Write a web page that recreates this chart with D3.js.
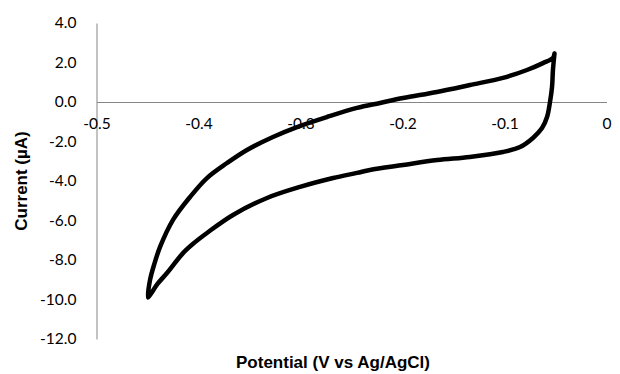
<!DOCTYPE html>
<html>
<head>
<meta charset="utf-8">
<script src="https://cdn.jsdelivr.net/npm/d3@7"></script>
<style>
  body { margin: 0; background: #fff; }
  svg { display: block; }
</style>
</head>
<body>
<svg id="chart" width="620" height="374"></svg>
<script>
"use strict";

// cyclic voltammogram, going round the loop
var potential = [-0.051, -0.0525, -0.0534, -0.0554, -0.0583, -0.0632, -0.0721, -0.0848, -0.1016, -0.134,
	-0.166, -0.1995, -0.2319, -0.2446, -0.268, -0.3005, -0.3328, -0.3662, -0.3917, -0.4040, -0.4152,
	-0.4309, -0.4400, -0.4475, -0.4495, -0.4475, -0.4430, -0.4377, -0.425, -0.4083, -0.3917, -0.372, -0.3525,
	-0.327, -0.3034, -0.274, -0.2446, -0.222, -0.1995, -0.1662, -0.1338, -0.1015, -0.078,
	-0.0623, -0.0525, -0.051];
var current = [2.45, 1.62, 0.76, 0.0, -0.76, -1.32, -1.82, -2.28, -2.53, -2.78,
	-2.94, -3.19, -3.44, -3.59, -3.85, -4.30, -4.86, -5.72, -6.63, -7.12, -7.65,
	-8.66, -9.20, -9.77, -9.90, -9.01, -8.15, -7.34, -5.97, -4.81, -3.85, -3.09, -2.43,
	-1.77, -1.27, -0.76, -0.30, -0.05, 0.20, 0.51, 0.86, 1.22, 1.62,
	1.97, 2.23, 2.45];

var xTicks = [-0.5, -0.4, -0.3, -0.2, -0.1, 0];
var yTicks = [4, 2, 0, -2, -4, -6, -8, -10, -12];

function drawChart(){

	var svg = d3.select("#chart");

	var xScale = d3.scaleLinear().domain([-0.5, 0]).range([96.5, 606.5]);
	var yScale = d3.scaleLinear().domain([-12, 4]).range([339, 23]);

	svg.append("g")
		.attr("id", "yAxisG")
		.attr("transform", "translate(" + xScale(-0.5) + ",0)")
		.call(d3.axisLeft(yScale)
			.tickValues(yTicks)
			.tickSize(0)
			.tickPadding(20)
			.tickFormat(function(d){ return d.toFixed(1); }));

	svg.append("g")
		.attr("id", "xAxisG")
		.attr("transform", "translate(0," + yScale(0) + ")")
		.call(d3.axisBottom(xScale)
			.tickValues(xTicks)
			.tickSize(0)
			.tickPadding(16)
			.tickFormat(function(d){ return d === 0 ? "0" : d.toFixed(1); }));

	svg.selectAll(".domain")
		.attr("stroke", "#868686")
		.attr("stroke-width", 1);

	svg.selectAll(".tick text")
		.attr("fill", "#000")
		.style("font-family", "Lato, 'Open Sans', sans-serif")
		.style("font-size", "15.5px");

	var loop = d3.range(potential.length).map(function(i){
		return [potential[i], current[i]];
	});

	var cvLine = d3.line()
		.x(function(d){ return xScale(d[0]); })
		.y(function(d){ return yScale(d[1]); })
		.curve(d3.curveCatmullRom.alpha(0.5));

	svg.append("path")
		.attr("d", cvLine(loop))
		.attr("fill", "none")
		.attr("stroke", "#000")
		.attr("stroke-width", 4.5)
		.attr("stroke-linejoin", "round")
		.attr("stroke-linecap", "round");

	svg.append("text")
		.attr("transform", "translate(21,181) rotate(-90)")
		.attr("text-anchor", "middle")
		.attr("dy", "0.35em")
		.style("font-family", "'Liberation Sans', Arial, sans-serif")
		.style("font-weight", "bold")
		.style("font-size", "17px")
		.text("Current (µA)");

	svg.append("text")
		.attr("x", 333)
		.attr("y", 362)
		.attr("text-anchor", "middle")
		.attr("dy", "0.35em")
		.style("font-family", "'Liberation Sans', Arial, sans-serif")
		.style("font-weight", "bold")
		.style("font-size", "17px")
		.text("Potential (V vs Ag/AgCl)");
}

drawChart();
</script>
</body>
</html>
